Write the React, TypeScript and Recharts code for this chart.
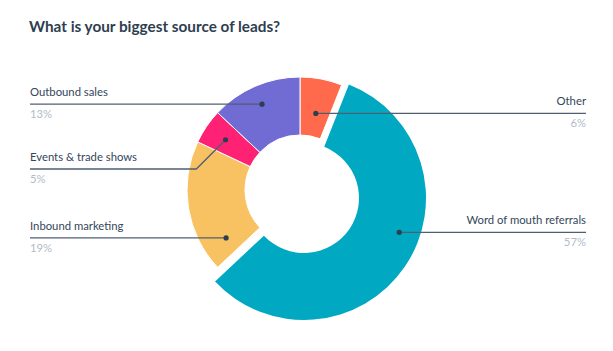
import React from 'react';
import { PieChart, Pie, Cell } from 'recharts';

const CATEGORIES = ['Other', 'Word of mouth referrals', 'Inbound marketing', 'Events & trade shows', 'Outbound sales'];
const SHARES = [6, 57, 19, 5, 13];
const COLORS = ['#FF6A4C', '#00A8C2', '#F8C263', '#FF2174', '#716CD4'];
const HIGHLIGHT = 1; // the pulled-out slice

// label layout: text side, where the dot sits inside its slice, optional fixed row for the leader
const LABEL_SIDE = ['right', 'right', 'left', 'left', 'left'];
const DOT_T = [0.54, 0.43, 0.15, 0.49, 0.49];
const DOT_R = [0.4, 0.69, 0.57, 0.6, 0.67];
const ROW_Y: (number | null)[] = [null, null, null, 169, null];

const data = CATEGORIES.map((name, i) => ({ name, value: SHARES[i] }));

const RAD = Math.PI / 180;
const FONT = 'Lato, "Open Sans", sans-serif';

function makeLabel(showHighlight: boolean) {
  return (props: any) => {
    const { cx, cy, startAngle, endAngle, innerRadius, outerRadius, index } = props;
    if ((index === HIGHLIGHT) !== showHighlight) return <g key={`l-${index}`} />;
    const a = startAngle + (endAngle - startAngle) * DOT_T[index];
    const r = innerRadius + (outerRadius - innerRadius) * DOT_R[index];
    const px = cx + r * Math.cos(-a * RAD);
    const py = cy + r * Math.sin(-a * RAD);
    const rowY = ROW_Y[index] ?? py;
    const right = LABEL_SIDE[index] === 'right';
    const tx = right ? 586 : 30;
    const ex = right ? px + Math.abs(py - rowY) : px - Math.abs(py - rowY);
    return (
      <g key={`l-${index}`}>
        <polyline
          points={`${px},${py} ${ex},${rowY} ${tx},${rowY}`}
          fill="none"
          stroke="#4f5f70"
          strokeWidth={1.3}
        />
        <circle cx={px} cy={py} r={2.6} fill="#2d3e50" />
        <text
          x={tx}
          y={rowY - 8}
          textAnchor={right ? 'end' : 'start'}
          fontFamily={FONT}
          fontSize={11.3}
          fill="#33475b"
        >
          {props.name}
        </text>
        <text
          x={tx}
          y={rowY + 14}
          textAnchor={right ? 'end' : 'start'}
          fontFamily={FONT}
          fontSize={11.3}
          fill="#b3bcc6"
        >
          {`${props.value}%`}
        </text>
      </g>
    );
  };
}

export default function App() {
  return (
    <div style={{ position: 'absolute', left: 0, top: 0, width: 613, height: 351, background: '#fff' }}>
      <div
        style={{
          position: 'absolute',
          left: 29,
          top: 19,
          fontFamily: FONT,
          fontWeight: 700,
          fontSize: 15.3,
          lineHeight: '15px',
          color: '#2d3e50',
          whiteSpace: 'nowrap',
        }}
      >
        What is your biggest source of leads?
      </div>
      <PieChart width={613} height={351} margin={{ top: 0, right: 0, bottom: 0, left: 0 }}>
        <Pie
          data={data}
          dataKey="value"
          nameKey="name"
          cx={300}
          cy={190}
          innerRadius={55}
          outerRadius={113}
          startAngle={90}
          endAngle={-270}
          stroke="#fff"
          strokeWidth={1}
          labelLine={false}
          label={makeLabel(false)}
          isAnimationActive={false}
        >
          {data.map((d, i) => (
            <Cell
              key={d.name}
              fill={i === HIGHLIGHT ? 'none' : COLORS[i]}
              stroke={i === HIGHLIGHT ? 'none' : '#fff'}
            />
          ))}
        </Pie>
        <Pie
          data={data}
          dataKey="value"
          nameKey="name"
          cx={304}
          cy={198}
          innerRadius={55}
          outerRadius={122}
          startAngle={90}
          endAngle={-270}
          stroke="none"
          labelLine={false}
          label={makeLabel(true)}
          isAnimationActive={false}
        >
          {data.map((d, i) => (
            <Cell key={d.name} fill={i === HIGHLIGHT ? COLORS[i] : 'none'} stroke="none" />
          ))}
        </Pie>
      </PieChart>
    </div>
  );
}
